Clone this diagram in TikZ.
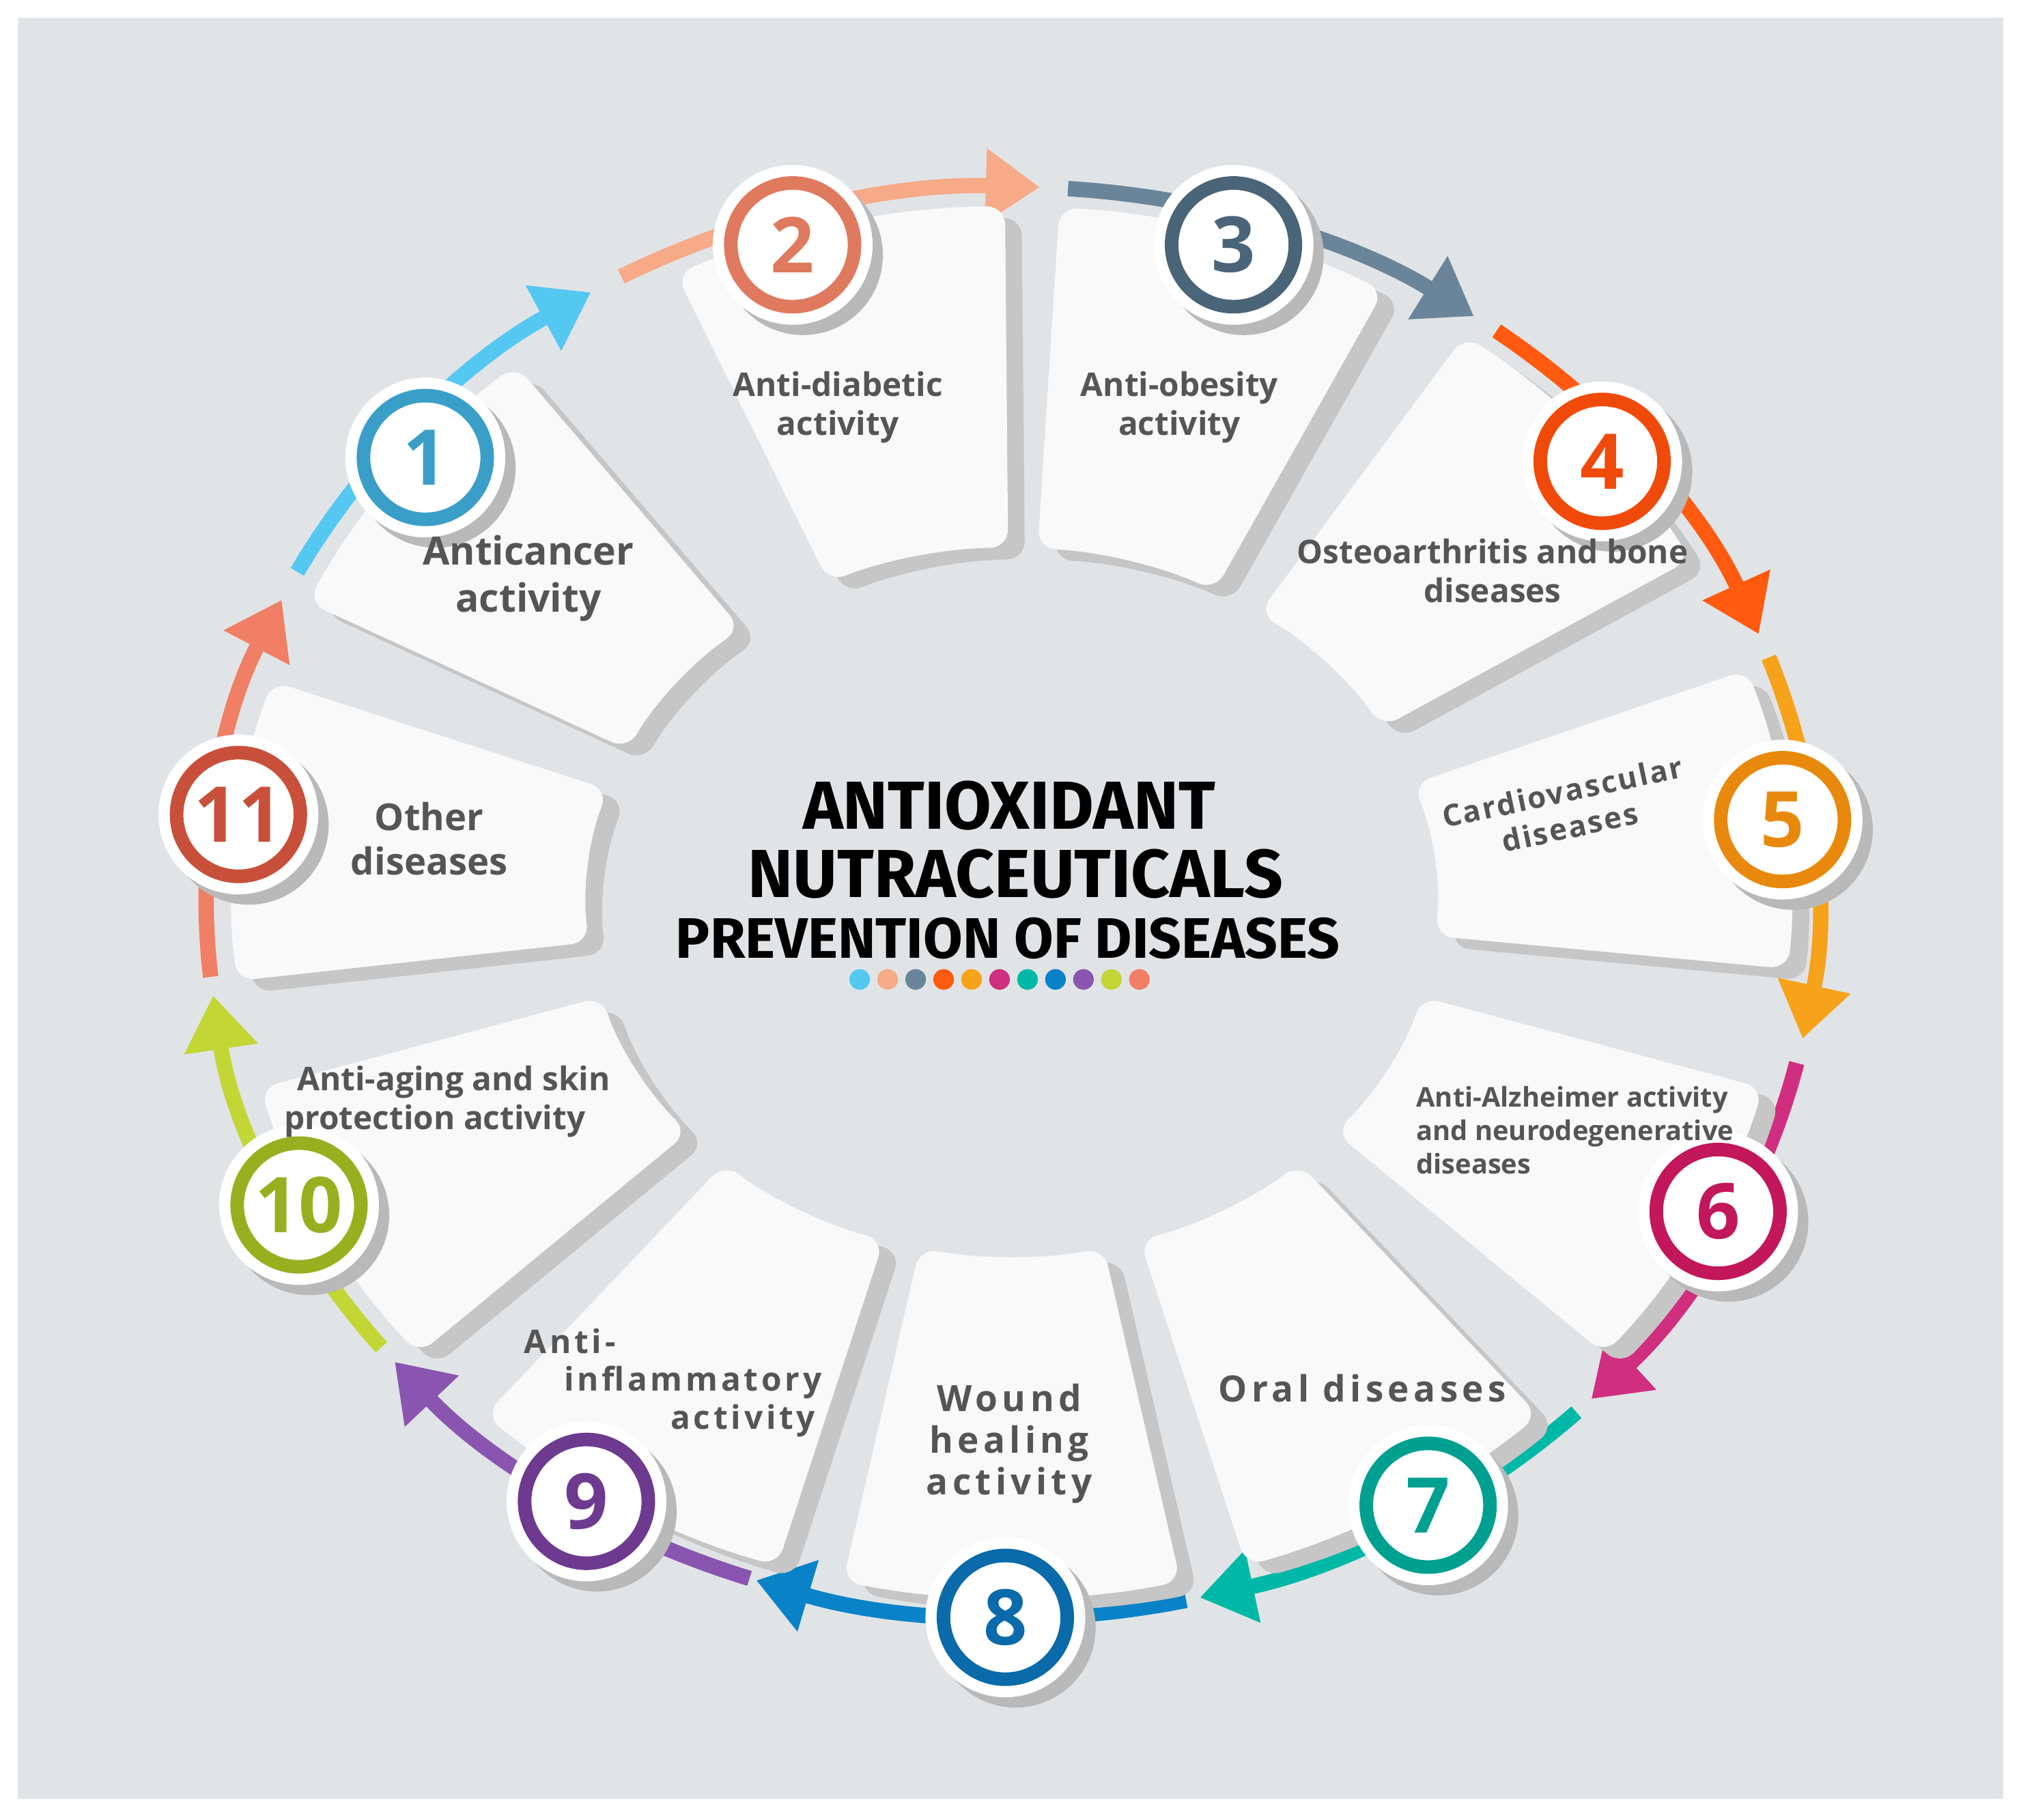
\documentclass[tikz,border=0pt]{standalone}
\usepackage{fontspec}
\setmainfont{Open Sans}
\newfontfamily\tfont{Fira Sans}
\usetikzlibrary{calc,arrows.meta}
\definecolor{bg}{HTML}{E1E4E6}
\definecolor{txt}{HTML}{555555}
\definecolor{cA}{HTML}{55C8F2}\definecolor{bA}{HTML}{3A9FC8}
\definecolor{cB}{HTML}{F6AA88}\definecolor{bB}{HTML}{E07A5F}
\definecolor{cC}{HTML}{6A8599}\definecolor{bC}{HTML}{4A6478}
\definecolor{cD}{HTML}{FF5A10}\definecolor{bD}{HTML}{F04A0A}
\definecolor{cE}{HTML}{F7A21B}\definecolor{bE}{HTML}{E8890E}
\definecolor{cF}{HTML}{D02E7E}\definecolor{bF}{HTML}{C2185B}
\definecolor{cG}{HTML}{00B8A6}\definecolor{bG}{HTML}{00A090}
\definecolor{cH}{HTML}{0A82C8}\definecolor{bH}{HTML}{0A6AAA}
\definecolor{cI}{HTML}{8A55B0}\definecolor{bI}{HTML}{6E3A90}
\definecolor{cJ}{HTML}{C2D636}\definecolor{bJ}{HTML}{98B020}
\definecolor{cK}{HTML}{F07F66}\definecolor{bK}{HTML}{C8503A}
\tikzset{
 lbl/.style={font=\fontsize{7.2}{8.6}\selectfont\bfseries, text=txt, align=center},
 num/.style={font=\fontsize{17}{17}\selectfont\bfseries},
 arr/.style={line width=3.4pt,-{Triangle[width=0.55cm,length=0.42cm]}},
}
\begin{document}
\begin{tikzpicture}
\useasboundingbox (0,0) rectangle (15.68,-14.12);
\fill[white] (0,0) rectangle (15.68,-14.12);
\fill[bg] (0.14,-0.14) rectangle (15.54,-13.96);
\coordinate (c) at (7.85,-7.0);
% arrows
\foreach \a/\col in {139.5/cA,106/cB,73/cC,40/cD,7/cE,-26/cF,-58.5/cG,-90.5/cH,-122/cI,-154.5/cJ,173/cK}{
 \draw[arr,\col] ($(c)+(\a+13:6.25 and 5.55)$) arc[start angle=\a+13,end angle=\a-18,x radius=6.25,y radius=5.55];
}
% cards
\foreach \a in {142,103,74,42,7,-28,-60,-90,-120,-152,174}{
 \begin{scope}[transform canvas={shift={(0.13,-0.09)}}]
 \fill[gray!45,rounded corners=4pt] ($(c)+(\a-12.5:6.05 and 5.4)$) arc[start angle=\a-12.5,end angle=\a+12.5,x radius=6.05,y radius=5.4] -- ($(c)+(\a+12.5:3.3 and 2.75)$) arc[start angle=\a+12.5,end angle=\a-12.5,x radius=3.3,y radius=2.75] -- cycle;
 \end{scope}
 \fill[white!95!gray,rounded corners=4pt] ($(c)+(\a-12.5:6.05 and 5.4)$) arc[start angle=\a-12.5,end angle=\a+12.5,x radius=6.05,y radius=5.4] -- ($(c)+(\a+12.5:3.3 and 2.75)$) arc[start angle=\a+12.5,end angle=\a-12.5,x radius=3.3,y radius=2.75] -- cycle;
}
% badges
\foreach \x/\y/\n/\col [count=\i] in {3.30/3.55/1/bA,6.15/1.90/2/bB,9.57/1.90/3/bC,12.43/3.58/4/bD,13.83/6.36/5/bE,13.33/9.40/6/bF,11.08/11.68/7/bG,7.80/12.55/8/bH,4.55/11.65/9/bI,2.32/9.35/10/bJ,1.85/6.32/11/bK}{
 \fill[gray!55] (\x+0.08,-\y-0.08) circle (0.62);
 \fill[white] (\x,-\y) circle (0.62);
 \draw[\col,line width=3pt] (\x,-\y) circle (0.48);
 \node[num,text=\col] (b\i) at (\x,-\y) {\n};
}
% labels
\node[lbl,font=\fontsize{8.6}{10.4}\selectfont\bfseries] (t1) at (4.10,-4.49) {Anticancer\\activity};
\node[lbl] (t2) at (6.50,-3.16) {Anti-diabetic\\activity};
\node[lbl] (t3) at (9.15,-3.16) {Anti-obesity\\activity};
\node[lbl] (t4) at (11.58,-4.43) {Osteoarthritis and bone\\diseases};
\node[lbl,rotate=12,inner sep=0pt,font=\fontsize{6.6}{8}\selectfont\bfseries\addfontfeature{LetterSpace=6}] (t5) at (12.15,-6.28) {Cardiovascular\\diseases};
\node[lbl,align=left,inner sep=0pt,font=\fontsize{6.0}{7.4}\selectfont\bfseries] (t6) at (12.22,-8.77) {Anti-Alzheimer activity\\and neurodegenerative\\diseases};
\node[lbl,font=\fontsize{8}{9.6}\selectfont\bfseries\addfontfeature{LetterSpace=12}] (t7) at (10.57,-10.77) {Oral diseases};
\node[lbl,font=\fontsize{8}{9.2}\selectfont\bfseries\addfontfeature{LetterSpace=12}] (t8) at (7.83,-11.20) {Wound\\healing\\activity};
\node[lbl,align=right,font=\fontsize{7.2}{8.4}\selectfont\bfseries\addfontfeature{LetterSpace=10}] (t9) at (5.22,-10.73) {Anti-\hspace*{1.6cm}\\inflammatory\\activity\hspace*{0.05cm}};
\node[lbl,align=left] (t10) at (3.47,-8.55) {\hspace*{0.1cm}Anti-aging and skin\\protection activity};
\node[lbl,font=\fontsize{8.2}{9.8}\selectfont\bfseries] (t11) at (3.33,-6.51) {Other\\diseases};
% title
\node[font=\tfont\fontsize{15}{15}\selectfont\bfseries] (h1) at (7.83,-6.25) {ANTIOXIDANT};
\node[font=\tfont\fontsize{15}{15}\selectfont\bfseries] (h2) at (7.88,-6.78) {NUTRACEUTICALS};
\node[font=\tfont\fontsize{12.6}{12.6}\selectfont\bfseries] (h3) at (7.82,-7.28) {PREVENTION OF DISEASES};
\foreach \col [count=\i] in {cA,cB,cC,cD,cE,cF,cG,cH,cI,cJ,cK}{
 \fill[\col] (6.67+0.217*\i-0.217,-7.60) circle (0.08);
}
\end{tikzpicture}
\end{document}
